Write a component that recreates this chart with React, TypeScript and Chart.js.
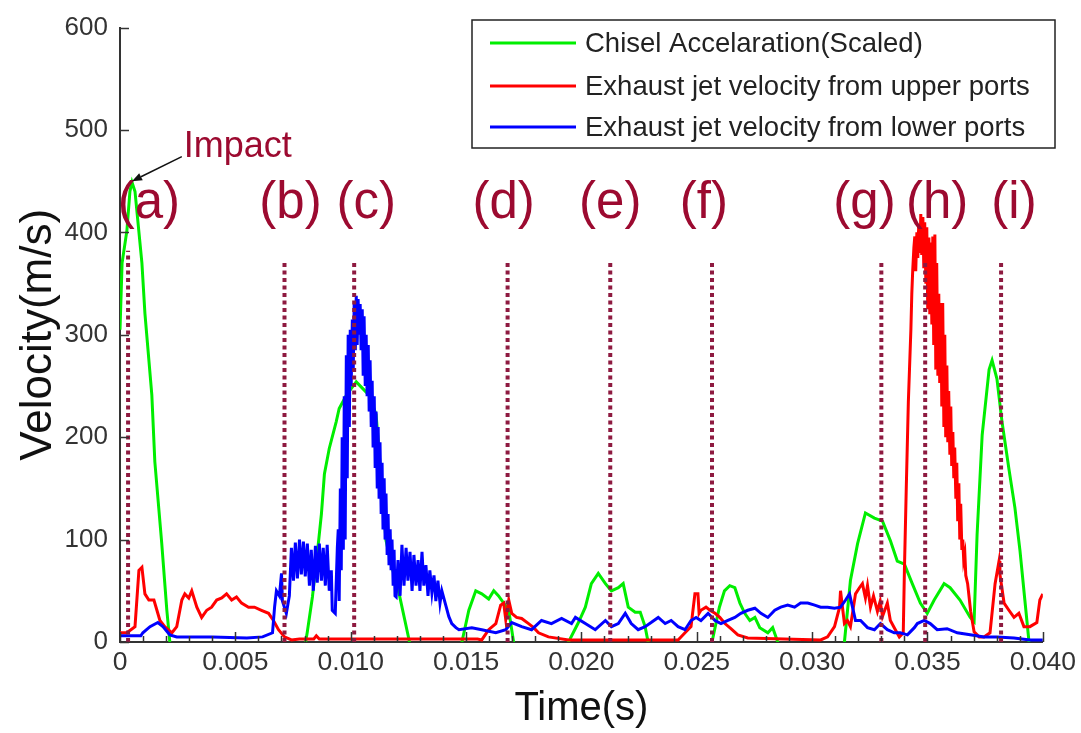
import React, { useEffect, useRef } from 'react';
import { Chart, registerables } from 'chart.js';

Chart.register(...registerables);

// ---------- data (time in s, velocity in m/s) ----------
const greenT = [0, 0.00009, 0.0003, 0.00043, 0.00052, 0.00065, 0.00095, 0.00108, 0.00138, 0.00151, 0.00181, 0.00203, 0.00216, 0.0023,
  0.0079, 0.00812, 0.00834, 0.00855, 0.00873, 0.00886, 0.00907, 0.00937, 0.0095, 0.00981, 0.01024, 0.01067, 0.0108, 0.0111, 0.01132, 0.01153, 0.01179, 0.0121, 0.01253, 0.0127,
  0.0146, 0.01482, 0.01512, 0.01542, 0.01568, 0.01598, 0.0162, 0.01641, 0.01685, 0.01706, 0.0172,
  0.0192, 0.01944, 0.01987, 0.02017, 0.02043, 0.02073, 0.02104, 0.0213, 0.0216, 0.02181, 0.02203, 0.02233, 0.02255, 0.02276, 0.02289, 0.023,
  0.0255, 0.02566, 0.02598, 0.0262, 0.02643, 0.02665, 0.02687, 0.02708, 0.0273, 0.02752, 0.02773, 0.02808, 0.02829, 0.02851, 0.0286,
  0.0312, 0.0314, 0.03166, 0.03197, 0.03231, 0.0327, 0.03305, 0.03339, 0.03369, 0.034, 0.03434, 0.03469, 0.03499, 0.03529, 0.03572, 0.03598, 0.03641, 0.03685, 0.03702,
  0.03715, 0.03737, 0.03767, 0.0378, 0.03801, 0.03823, 0.03853, 0.03879, 0.03901, 0.03922, 0.0394, 0.0395, 0.04];
const greenV = [305, 370, 402, 440, 449, 440, 370, 321, 241, 176, 96, 31, 0, -20,
  -20, 10, 44, 86, 125, 164, 189, 215, 228, 241, 254, 244, 241, 222, 160, 99, 73, 47, 2, -20,
  -20, 0, 31, 50, 47, 42, 50, 45, 31, 0, -20,
  -20, 0, 19, 34, 57, 67, 57, 50, 53, 57, 34, 29, 29, 15, 0, -20,
  -20, 0, 34, 50, 55, 53, 38, 28, 21, 24, 14, 9, 14, 0, -20,
  -20, 0, 60, 96, 126, 121, 118, 99, 79, 76, 57, 38, 28, 41, 57, 53, 41, 24, 20,
  105, 202, 266, 275, 257, 215, 169, 131, 89, 41, 0, -20, -20];

const redT = [0, 0.0003, 0.00065, 0.00082, 0.00095, 0.00108, 0.00125, 0.00147, 0.0016, 0.00173, 0.00194, 0.00225, 0.00246, 0.00268, 0.00281, 0.00298, 0.00311,
  0.00333, 0.00354, 0.00376, 0.00397, 0.00419, 0.00441, 0.00462, 0.00484, 0.00505, 0.00527, 0.00557, 0.00583, 0.00613, 0.00644, 0.00665, 0.00687, 0.00713, 0.00743, 0.00778,
  0.0084, 0.00851, 0.00864, 0.0155, 0.01568, 0.01598, 0.01629, 0.0165, 0.01663, 0.01672, 0.01685, 0.01698, 0.01719, 0.01741, 0.01771, 0.01793, 0.01814, 0.01857, 0.01944,
  0.02419, 0.02449, 0.02475, 0.02492, 0.02505, 0.0251, 0.02518, 0.0254, 0.02557, 0.02579, 0.026, 0.02622, 0.02648, 0.02678, 0.02721,
  0.03037, 0.03067, 0.03097, 0.03119, 0.03123, 0.0314, 0.03153, 0.03166, 0.03188, 0.03205, 0.03218, 0.03231, 0.0324, 0.03253, 0.03266, 0.03283, 0.03295, 0.03305, 0.03326, 0.03339, 0.03356, 0.03378,
  0.03395, 0.034, 0.03408, 0.03417,
  0.03428, 0.03432, 0.03436, 0.03441, 0.03445, 0.03449, 0.03454, 0.03458, 0.03462, 0.03467, 0.03471, 0.03475, 0.0348, 0.03484, 0.03488, 0.03493, 0.03497, 0.03501, 0.03506,
  0.0351, 0.03514, 0.03519, 0.03523, 0.03527, 0.03532, 0.03536, 0.0354, 0.03545, 0.03549, 0.03553, 0.03558, 0.03562, 0.03566, 0.03571, 0.03575, 0.03579, 0.03584, 0.03588,
  0.03592, 0.03597, 0.03601, 0.03605, 0.0361, 0.03614, 0.03618, 0.03623, 0.03627, 0.03631, 0.03636, 0.0364, 0.03644, 0.03649, 0.03653, 0.03657, 0.03662, 0.03666, 0.03674, 0.03687,
  0.03702, 0.03724, 0.03745, 0.03771, 0.03793, 0.0381, 0.03814, 0.03832, 0.03853, 0.03875, 0.03896, 0.03918, 0.03944, 0.03974, 0.03987, 0.04];
const redV = [9, 9, 15, 70, 73, 47, 41, 41, 31, 21, 15, 9, 15, 41, 47, 43, 50,
  34, 24, 31, 34, 41, 43, 47, 41, 44, 38, 34, 34, 31, 28, 21, 12, 5, 2, 3,
  3, 6, 3, 3, 2, 12, 18, 36, 38, 22, 41, 28, 24, 23, 18, 14, 9, 5, 2,
  2, 9, 15, 47, 47, 28, 31, 34, 31, 28, 24, 18, 13, 7, 4,
  2, 5, 15, 34, 50, 18, 21, 15, 47, 53, 57, 43, 55, 34, 45, 30, 40, 25, 38, 21, 14, 5,
  9, 70, 150, 234,
  305, 340, 363, 385, 396, 362, 400, 375, 408, 380, 418, 378, 415, 365, 410, 350, 405, 325, 395,
  320, 390, 310, 396, 290, 398, 266, 370, 260, 340, 253, 331, 230, 331, 210, 300, 200, 270, 195,
  245, 183, 230, 172, 205, 160, 190, 140, 175, 118, 155, 100, 135, 90, 100, 80, 86, 65, 57, 30,
  10, 5, 5, 9, 57, 79, 66, 38, 31, 24, 28, 15, 15, 19, 41, 47];

const blueT = [0, 0.0009, 0.00099, 0.0013, 0.00164, 0.00186, 0.00216, 0.00246, 0.004, 0.0055, 0.00618, 0.00661, 0.0067, 0.00678, 0.00691, 0.007, 0.00704, 0.00721,
  0.00734, 0.00743, 0.00752, 0.0076, 0.00769, 0.00778, 0.00786, 0.00795, 0.00803, 0.00812, 0.00821, 0.00829, 0.00838, 0.00847, 0.00855, 0.00864, 0.00873, 0.00881, 0.0089,
  0.00898, 0.00907, 0.00916, 0.0092, 0.00933, 0.00942,
  0.00946, 0.0095, 0.00955, 0.00959, 0.00963, 0.00968, 0.00972, 0.00976, 0.00981, 0.00985, 0.00989, 0.00994, 0.00998, 0.01002, 0.01007, 0.01011, 0.01015, 0.0102, 0.01024,
  0.01028, 0.01032, 0.01037, 0.01041, 0.01045, 0.0105, 0.01054, 0.01058, 0.01063, 0.01067, 0.01071, 0.01076, 0.0108, 0.01084, 0.01089, 0.01093, 0.01097, 0.01102, 0.01106,
  0.0111, 0.01115, 0.01119, 0.01123, 0.01127, 0.01132, 0.01136, 0.0114, 0.01145, 0.01149, 0.01153, 0.01158, 0.01162, 0.01166, 0.01171, 0.01175, 0.01179, 0.01184, 0.01188,
  0.01192, 0.01197,
  0.01205, 0.01214, 0.01222, 0.01231, 0.0124, 0.01248, 0.01257, 0.01266, 0.01274, 0.01283, 0.01292, 0.013, 0.01309, 0.01317, 0.01326, 0.01335, 0.01343, 0.01352, 0.01361,
  0.01369, 0.01378, 0.01387, 0.01395, 0.01413, 0.01425, 0.01438, 0.01456,
  0.01469, 0.01525, 0.01568, 0.01629, 0.01672, 0.01698, 0.01741, 0.01784, 0.01827, 0.0187, 0.01914, 0.01957, 0.01974, 0.02017, 0.0206, 0.02104, 0.0213, 0.0216,
  0.0219, 0.02216, 0.02246, 0.02276, 0.02302, 0.02333, 0.02363, 0.02389, 0.02419, 0.02449, 0.02475, 0.02497, 0.02518, 0.02549, 0.02579, 0.02605, 0.02635, 0.02665, 0.02691,
  0.02721, 0.02752, 0.02778, 0.02808, 0.02838, 0.02864, 0.02894, 0.02924, 0.0295, 0.02981, 0.03011, 0.03037, 0.03067, 0.03097, 0.03123, 0.03145, 0.03162, 0.03175, 0.03188,
  0.0321, 0.0324, 0.0327, 0.03296, 0.03326, 0.03356, 0.03382, 0.03413, 0.03443, 0.03456, 0.03486, 0.03512, 0.03542, 0.03585, 0.03629, 0.03685, 0.03745, 0.03801, 0.03875, 0.03944, 0.04];
const blueV = [6, 6, 9, 15, 19, 15, 7, 5, 5, 4, 5, 9, 34, 50, 45, 67, 40, 28,
  45, 92, 60, 97, 62, 100, 66, 98, 64, 96, 55, 90, 50, 94, 58, 96, 60, 92, 55,
  95, 50, 70, 31, 28, 92,
  110, 40, 150, 70, 200, 90, 240, 100, 280, 160, 300, 210, 305, 250, 315, 265, 330, 285, 338,
  290, 335, 300, 330, 285, 325, 260, 318, 250, 300, 240, 290, 225, 275, 210, 255, 190, 240, 170,
  225, 150, 210, 140, 195, 125, 175, 110, 160, 100, 145, 85, 125, 75, 110, 70, 100, 55, 90,
  45, 44,
  80, 45, 95, 55, 92, 60, 88, 50, 85, 55, 80, 50, 88, 55, 75, 45, 70, 48, 65,
  40, 60, 38, 50, 35, 25, 18, 14,
  12, 14, 12, 9, 12, 19, 15, 12, 21, 18, 23, 18, 24, 18, 12, 21, 15, 18,
  28, 18, 12, 15, 19, 24, 18, 21, 15, 12, 21, 24, 21, 28, 21, 18, 21, 24, 28,
  31, 33, 28, 24, 31, 34, 36, 34, 38, 38, 36, 34, 34, 33, 34, 41, 47, 34, 21,
  21, 14, 12, 18, 12, 9, 9, 7, 14, 18, 21, 18, 12, 13, 9, 7, 5, 5, 4, 2, 2];

const seriesLabels = ['Chisel Accelaration(Scaled)', 'Exhaust jet velocity from upper ports', 'Exhaust jet velocity from lower ports'];
const seriesColors = ['#00ee00', '#ff0000', '#0000ff'];

const markerLabels = ['(a)', '(b)', '(c)', '(d)', '(e)', '(f)', '(g)', '(h)', '(i)'];
const markerTimes = [0.00035, 0.00713, 0.01015, 0.0168, 0.02125, 0.02566, 0.033, 0.0349, 0.03819];
const markerTops = [382, 370, 370, 370, 370, 370, 370, 370, 370];
const labelTimes = [0.00125, 0.00739, 0.01067, 0.01663, 0.02125, 0.02531, 0.03227, 0.03542, 0.03875];
const labelValue = 414;

const impactText = 'Impact';
const impactTip = [0.00052, 450];
const impactTail = [0.00268, 474];

const xTickLabels = ['0', '0.005', '0.010', '0.015', '0.020', '0.025', '0.030', '0.035', '0.040'];
const yTickLabels = ['0', '100', '200', '300', '400', '500', '600'];
const xMinorStep = 0.001;

const FONT = '"Liberation Sans", Arial, sans-serif';
const MAROON = '#9c0a30';
const DOT = '#8e1a40';

const toPoints = (t: number[], v: number[]) => t.map((tt, i) => ({ x: tt, y: v[i] }));

const decorPlugin = {
  id: 'decor',
  afterDatasetsDraw(chart: any) {
    const { ctx, scales } = chart;
    const x = scales.x, y = scales.y;
    ctx.save();
    ctx.fillStyle = MAROON;
    ctx.font = `51px ${FONT}`;
    ctx.textAlign = 'center';
    ctx.textBaseline = 'alphabetic';
    markerLabels.forEach((s, i) => {
      ctx.fillText(s, x.getPixelForValue(labelTimes[i]), y.getPixelForValue(labelValue));
    });
    const tx = x.getPixelForValue(impactTail[0]);
    const ty = y.getPixelForValue(impactTail[1]);
    const hx = x.getPixelForValue(impactTip[0]);
    const hy = y.getPixelForValue(impactTip[1]);
    ctx.font = `36px ${FONT}`;
    ctx.textAlign = 'left';
    ctx.fillText(impactText, tx + 2, ty);
    ctx.strokeStyle = '#111';
    ctx.fillStyle = '#111';
    ctx.lineWidth = 1.5;
    const ang = Math.atan2(hy - ty, hx - tx);
    const hl = 10, hw = 4;
    const bx = hx - hl * Math.cos(ang), by = hy - hl * Math.sin(ang);
    ctx.beginPath();
    ctx.moveTo(tx, ty);
    ctx.lineTo(bx, by);
    ctx.stroke();
    ctx.beginPath();
    ctx.moveTo(hx, hy);
    ctx.lineTo(bx + hw * Math.sin(ang), by - hw * Math.cos(ang));
    ctx.lineTo(bx - hw * Math.sin(ang), by + hw * Math.cos(ang));
    ctx.closePath();
    ctx.fill();
    ctx.restore();
  },
  afterDraw(chart: any) {
    const { ctx, scales, chartArea } = chart;
    const x = scales.x, y = scales.y;
    ctx.save();
    ctx.strokeStyle = '#333';
    ctx.lineWidth = 1.5;
    const n = Math.round((x.max - x.min) / xMinorStep);
    for (let i = 0; i <= n; i++) {
      const px = Math.round(x.getPixelForValue(x.min + i * xMinorStep)) + 0.5;
      const len = i % 5 === 0 ? 10 : 6;
      ctx.beginPath();
      ctx.moveTo(px, chartArea.bottom);
      ctx.lineTo(px, chartArea.bottom - len);
      ctx.stroke();
    }
    y.ticks.forEach((t: any) => {
      const py = Math.round(y.getPixelForValue(t.value)) + 0.5;
      ctx.beginPath();
      ctx.moveTo(chartArea.left, py);
      ctx.lineTo(chartArea.left + 9, py);
      ctx.stroke();
    });
    // legend box
    const lx = 472, ly = 20, lw = 583, lh = 128;
    ctx.fillStyle = '#fff';
    ctx.fillRect(lx, ly, lw, lh);
    ctx.strokeStyle = '#222';
    ctx.lineWidth = 1.5;
    ctx.strokeRect(lx, ly, lw, lh);
    ctx.font = `27.5px ${FONT}`;
    ctx.textAlign = 'left';
    ctx.textBaseline = 'middle';
    const rows = [43, 86, 127];
    chart.data.datasets.slice(0, 3).forEach((ds: any, i: number) => {
      ctx.strokeStyle = ds.borderColor;
      ctx.lineWidth = 3;
      ctx.beginPath();
      ctx.moveTo(490, rows[i]);
      ctx.lineTo(576, rows[i]);
      ctx.stroke();
      ctx.fillStyle = '#222';
      ctx.fillText(ds.label, 585, rows[i] + 1);
    });
    ctx.restore();
  },
};

export default function App() {
  const ref = useRef<HTMLCanvasElement | null>(null);
  useEffect(() => {
    if (!ref.current) return;
    const lines = [
      { t: greenT, v: greenV, order: 3 },
      { t: redT, v: redV, order: 2 },
      { t: blueT, v: blueV, order: 1 },
    ].map((s, i) => ({
      label: seriesLabels[i],
      data: toPoints(s.t, s.v),
      borderColor: seriesColors[i],
      backgroundColor: seriesColors[i],
      borderWidth: 3,
      pointRadius: 0,
      tension: 0,
      fill: false,
      order: s.order,
    }));
    const markers = markerTimes.map((t, i) => ({
      label: markerLabels[i],
      data: [{ x: t, y: 0 }, { x: t, y: markerTops[i] }],
      borderColor: DOT,
      backgroundColor: DOT,
      borderWidth: 4,
      borderDash: [4, 3.5],
      pointRadius: 0,
      fill: false,
      order: 0,
    }));
    const chart = new Chart(ref.current, {
      type: 'line',
      data: { datasets: [...lines, ...markers] as any },
      options: {
        animation: false,
        responsive: false,
        devicePixelRatio: 1,
        layout: { padding: { top: 22, right: 35, left: 0, bottom: 0 } },
        plugins: { legend: { display: false }, tooltip: { enabled: false } },
        scales: {
          x: {
            type: 'linear',
            min: 0,
            max: 0.04,
            afterFit: (s: any) => { s.height = 91; },
            grid: { display: false, drawTicks: false },
            border: { display: true, color: '#333', width: 2 },
            ticks: {
              stepSize: 0.005,
              autoSkip: false,
              maxRotation: 0,
              padding: 5,
              color: '#333',
              font: { family: FONT, size: 26.5 },
              callback: (_v: any, i: number) => xTickLabels[i],
            },
            title: {
              display: true,
              text: 'Time(s)',
              color: '#111',
              font: { family: FONT, size: 40 },
              padding: { top: 0, bottom: 0 },
            },
          },
          y: {
            type: 'linear',
            min: 0,
            max: 600,
            afterFit: (s: any) => { s.width = 120; },
            grid: { display: false, drawTicks: false },
            border: { display: true, color: '#333', width: 2 },
            ticks: {
              stepSize: 100,
              padding: 12,
              color: '#333',
              font: { family: FONT, size: 26 },
              callback: (_v: any, i: number) => yTickLabels[i],
            },
            title: {
              display: true,
              text: 'Velocity(m/s)',
              color: '#111',
              font: { family: FONT, size: 44 },
              padding: { top: 12, bottom: 0 },
            },
          },
        },
      },
      plugins: [decorPlugin],
    });
    return () => chart.destroy();
  }, []);
  return (
    <div style={{ position: 'absolute', left: 0, top: 0, width: 1081, height: 733, background: '#fff' }}>
      <canvas ref={ref} width={1081} height={733} />
    </div>
  );
}
